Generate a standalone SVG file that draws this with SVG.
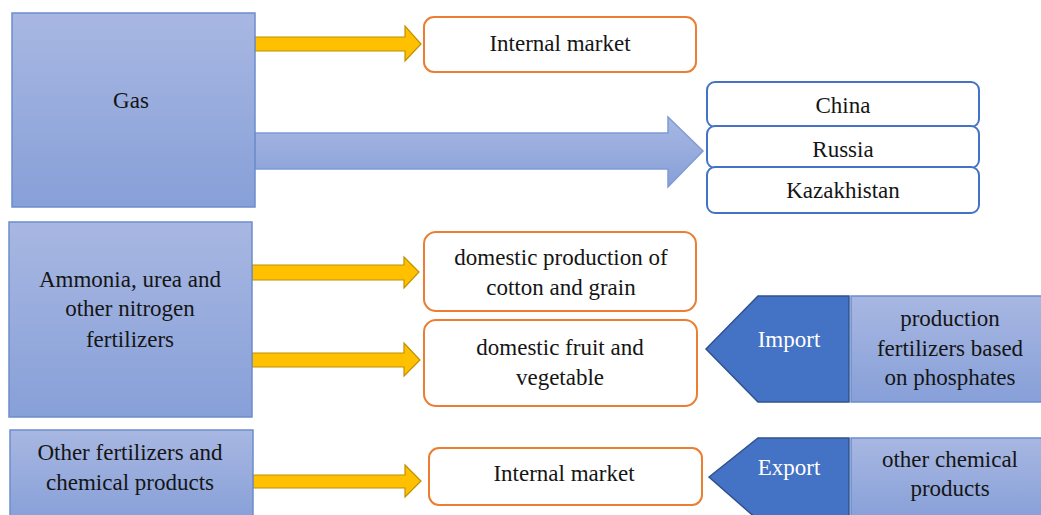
<svg xmlns="http://www.w3.org/2000/svg" width="1041" height="515" viewBox="0 0 1041 515">
<defs>
<linearGradient id="gb" x1="0" y1="0" x2="0" y2="1">
<stop offset="0" stop-color="#A8B7E2"/>
<stop offset="1" stop-color="#87A0D8"/>
</linearGradient>
<style>
.src{fill:url(#gb);stroke:#6C8DCC;stroke-width:1.5}
.org{fill:#fff;stroke:#ED7D31;stroke-width:2}
.blu{fill:#fff;stroke:#4472C4;stroke-width:2}
.ya{fill:#FFC000;stroke:#C09000;stroke-width:1.2}
.dk{fill:#4472C4;stroke:#2F528F;stroke-width:1.5}
.t{font-family:"Liberation Serif","Times New Roman",serif;font-size:23px;fill:#151515;text-anchor:middle}
.w{fill:#fff}
</style>
</defs>
<rect width="1041" height="515" fill="#fff"/>
<g id="connectors">
<path class="ya" d="M255,37 H405 V26 L421,44 L405,61 V51 H255 Z"/>
<path fill="url(#gb)" stroke="#7F9BD6" stroke-width="1.5" d="M255,133 H668 V117 L703,151 L668,187 V169 H255 Z"/>
<path class="ya" d="M252,265 H404 V257 L419,272 L404,288 V280 H252 Z"/>
<path class="ya" d="M252,353 H404 V343 L420,360 L404,376 V367 H252 Z"/>
<path class="ya" d="M253,475 H405 V465 L421,481 L405,497 V488 H253 Z"/>
</g>
<g id="gas"><rect class="src" x="12" y="13" width="243" height="194"/><text class="t" x="131" y="108">Gas</text></g>
<g id="internal1"><rect class="org" x="424" y="17" width="272" height="55" rx="10"/><text class="t" x="560" y="51">Internal market</text></g>
<g id="china"><rect class="blu" x="707" y="82" width="272" height="45" rx="8"/><text class="t" x="843" y="113">China</text></g>
<g id="russia"><rect class="blu" x="707" y="126" width="272" height="42" rx="8"/><text class="t" x="843" y="157">Russia</text></g>
<g id="kazakhistan"><rect class="blu" x="707" y="167" width="272" height="46" rx="8"/><text class="t" x="843" y="198">Kazakhistan</text></g>
<g id="ammonia"><rect class="src" x="9" y="222" width="243" height="195"/><text class="t" x="130" y="287">Ammonia, urea and</text><text class="t" x="130" y="316">other nitrogen</text><text class="t" x="130" y="347">fertilizers</text></g>
<g id="cotton"><rect class="org" x="424" y="232" width="272" height="79" rx="12"/><text class="t" x="561" y="265">domestic production of</text><text class="t" x="561" y="295">cotton and grain</text></g>
<g id="fruit"><rect class="org" x="424" y="320" width="273" height="86" rx="12"/><text class="t" x="560" y="355">domestic fruit and</text><text class="t" x="560" y="385">vegetable</text></g>
<g id="other"><rect class="src" x="10" y="430" width="243" height="90"/><text class="t" x="130" y="460">Other fertilizers and</text><text class="t" x="130" y="490">chemical products</text></g>
<g id="internal2"><rect class="org" x="429" y="448" width="273" height="57" rx="10"/><text class="t" x="564" y="481">Internal market</text></g>
<g id="import"><path class="dk" d="M706,349 L758,296 H849 V402 H758 Z"/><text class="t w" x="789" y="347">Import</text></g>
<g id="phosphates"><rect class="src" x="851" y="296" width="192" height="106"/><text class="t" x="950" y="326">production</text><text class="t" x="950" y="356">fertilizers based</text><text class="t" x="950" y="385">on phosphates</text></g>
<g id="export"><path class="dk" d="M709,477 L758,438 H849 V520 H758 Z"/><text class="t w" x="789" y="475">Export</text></g>
<g id="chemical"><rect class="src" x="851" y="438" width="192" height="82"/><text class="t" x="950" y="467">other chemical</text><text class="t" x="950" y="496">products</text></g>
</svg>
